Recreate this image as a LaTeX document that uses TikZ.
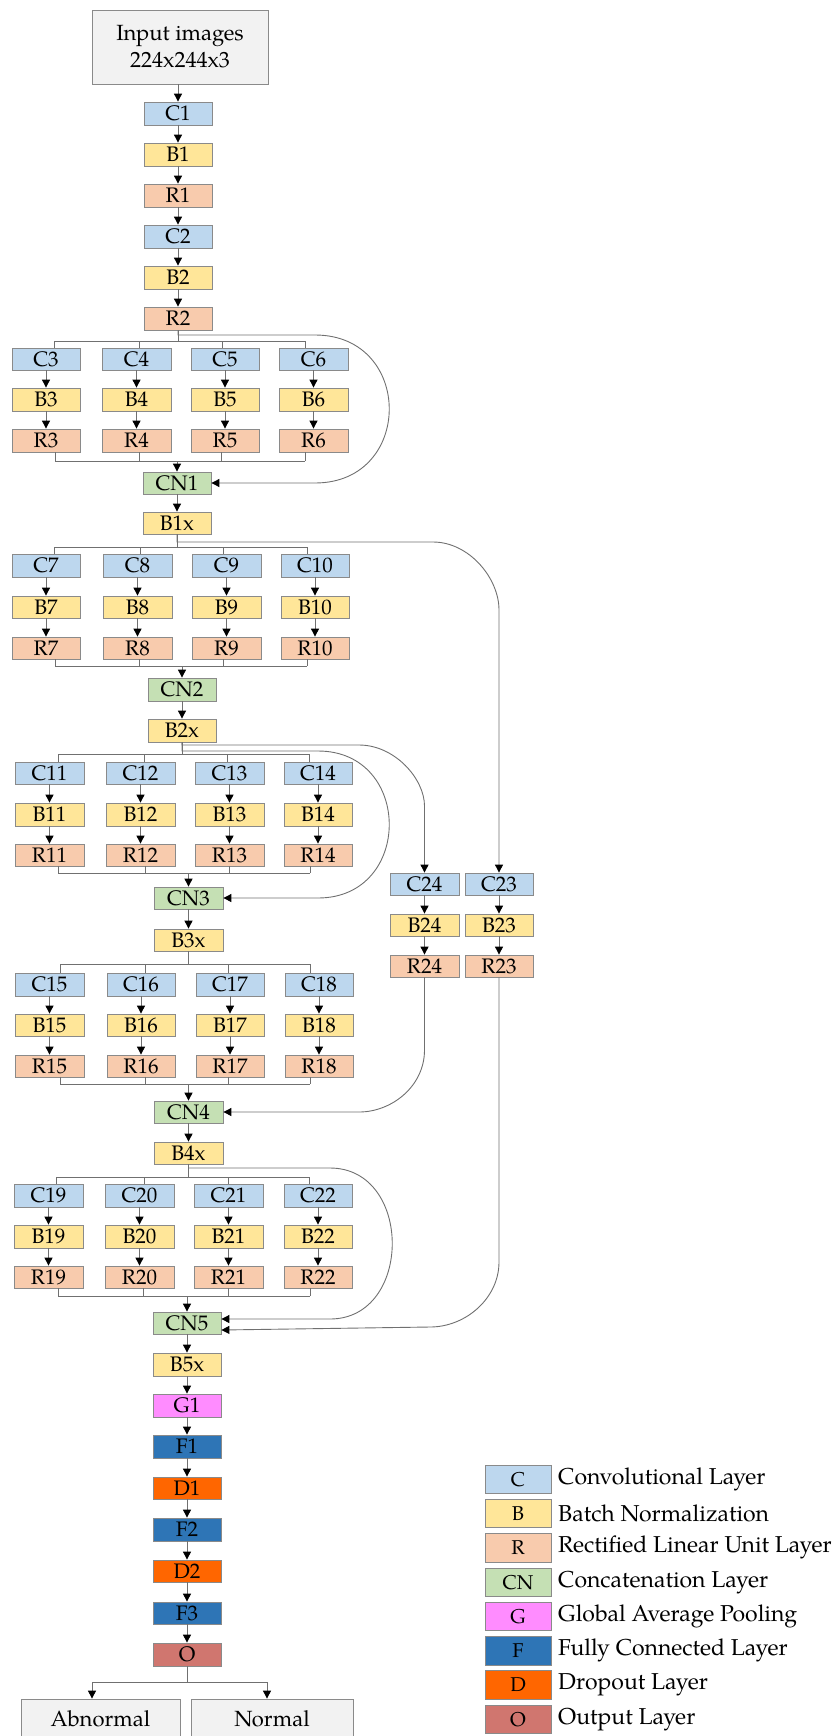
\documentclass[tikz,border=0pt]{standalone}
\usepackage{fontspec}
\setmainfont{TeX Gyre Pagella}
\usetikzlibrary{arrows.meta}
\definecolor{cC}{HTML}{BDD7EE}
\definecolor{cB}{HTML}{FFE699}
\definecolor{cR}{HTML}{F8CBAD}
\definecolor{cCN}{HTML}{C5E0B4}
\definecolor{cG}{HTML}{FF8CFF}
\definecolor{cF}{HTML}{2E75B6}
\definecolor{cD}{HTML}{FF6600}
\definecolor{cO}{HTML}{D0766F}
\definecolor{cI}{HTML}{F2F2F2}
\definecolor{bordergray}{HTML}{8A8A8A}
\definecolor{linegray}{HTML}{707070}
\newcommand\mybox[7]{\node[#2, minimum width={#4-#3}, minimum height={#6-#5}] (#1) at ({(#3+#4)/2},{(#5+#6)/2}) {#7};}
\tikzset{
  box/.style={draw=bordergray, line width=0.8pt, inner sep=0pt, align=center, font=\fontsize{21}{24}\selectfont},
  cbox/.style={box, fill=cC},
  bbox/.style={box, fill=cB},
  rbox/.style={box, fill=cR},
  cnbox/.style={box, fill=cCN},
  gpbox/.style={box, fill=cG},
  fbox/.style={box, fill=cF},
  dbox/.style={box, fill=cD},
  obox/.style={box, fill=cO},
  ibox/.style={box, fill=cI, font=\fontsize{22}{27}\selectfont},
  ln/.style={draw=linegray, line width=0.9pt},
  arr/.style={ln, -{Triangle[width=8pt,length=8pt,color=black]}},
  legbox/.style={font=\fontsize{20}{23}\selectfont},
  legtext/.style={anchor=west, inner sep=0pt, font=\fontsize{23}{27}\selectfont}
}
\begin{document}
\begin{tikzpicture}[x=1pt,y=-1pt]
\useasboundingbox (0,0) rectangle (836,1736);
% ---------- top column
\mybox{inp}{ibox}{92}{268}{10}{84}{Input images\\224x244x3}
\mybox{C1}{cbox}{144}{212}{102}{125}{C1}
\mybox{B1}{bbox}{144}{212}{143}{166}{B1}
\mybox{R1}{rbox}{144}{212}{184}{207}{R1}
\mybox{C2}{cbox}{144}{212}{225}{248}{C2}
\mybox{B2}{bbox}{144}{212}{266}{289}{B2}
\mybox{R2}{rbox}{144}{212}{307}{330}{R2}
\draw[arr] (C1 |- inp.south) -- (C1.north);
\draw[arr] (C1) -- (B1);
\draw[arr] (B1) -- (R1);
\draw[arr] (R1) -- (C2);
\draw[arr] (C2) -- (B2);
\draw[arr] (B2) -- (R2);
% ---------- block 1
\foreach \n/\xa/\xb in {3/12/80,4/102/171,5/191/259,6/279/348}{
  \mybox{C\n}{cbox}{\xa}{\xb}{348}{370}{C\n}
  \mybox{B\n}{bbox}{\xa}{\xb}{388}{411}{B\n}
  \mybox{R\n}{rbox}{\xa}{\xb}{429}{452}{R\n}
  \draw[arr] (C\n) -- (B\n);
  \draw[arr] (B\n) -- (R\n);
}
\mybox{CN1}{cnbox}{143}{211}{472}{494}{CN1}
\mybox{B1x}{bbox}{143}{211}{512}{534}{B1x}
\draw[ln] (R2.south) -- (R2.south |- 0,341);
\draw[ln] (54,341) -- (305,341);
\foreach \n/\t in {3/54,4/139,5/222,6/305} \draw[ln] (\t,341) -- (\t,341 |- C\n.north);
\foreach \n/\t in {3/55,4/139,5/221,6/305} \draw[ln] (\t,461 |- R\n.south) -- (\t,461);
\draw[ln] (55,461) -- (305,461);
\draw[arr] (CN1 |- 0,461) -- (CN1.north);
\draw[arr] (CN1) -- (B1x);
% ---------- block 2
\foreach \n/\xa/\xb in {7/12/80,8/103/172,9/192/261,10/281/349}{
  \mybox{C\n}{cbox}{\xa}{\xb}{554}{577}{C\n}
  \mybox{B\n}{bbox}{\xa}{\xb}{596}{618}{B\n}
  \mybox{R\n}{rbox}{\xa}{\xb}{637}{659}{R\n}
  \draw[arr] (C\n) -- (B\n);
  \draw[arr] (B\n) -- (R\n);
}
\mybox{CN2}{cnbox}{148}{216}{678}{701}{CN2}
\mybox{B2x}{bbox}{148}{216}{719}{742}{B2x}
\draw[ln] (B1x.south) -- (B1x.south |- 0,547);
\draw[ln] (54,547) -- (307,547);
\foreach \n/\t in {7/54,8/140,9/223,10/307} \draw[ln] (\t,547) -- (\t,547 |- C\n.north);
\foreach \n/\t in {7/55,8/139,9/223,10/307} \draw[ln] (\t,666 |- R\n.south) -- (\t,666);
\draw[ln] (55,666) -- (307,666);
\draw[arr] (CN2 |- 0,666) -- (CN2.north);
\draw[arr] (CN2) -- (B2x);
% ---------- block 3
\foreach \n/\xa/\xb in {11/15/84,12/106/175,13/195/264,14/284/352}{
  \mybox{C\n}{cbox}{\xa}{\xb}{762}{784}{C\n}
  \mybox{B\n}{bbox}{\xa}{\xb}{803}{826}{B\n}
  \mybox{R\n}{rbox}{\xa}{\xb}{844}{866}{R\n}
  \draw[arr] (C\n) -- (B\n);
  \draw[arr] (B\n) -- (R\n);
}
\mybox{CN3}{cnbox}{154}{223}{887}{909}{CN3}
\mybox{B3x}{bbox}{154}{223}{929}{951}{B3x}
\draw[ln] (B2x.south) -- (B2x.south |- 0,754);
\draw[ln] (58,754) -- (309,754);
\foreach \n/\t in {11/58,12/144,13/227,14/309} \draw[ln] (\t,754) -- (\t,754 |- C\n.north);
\foreach \n/\t in {11/58,12/145,13/229,14/310} \draw[ln] (\t,873 |- R\n.south) -- (\t,873);
\draw[ln] (58,873) -- (310,873);
\draw[arr] (CN3 |- 0,873) -- (CN3.north);
\draw[arr] (CN3) -- (B3x);
% ---------- block 4
\foreach \n/\xa/\xb in {15/15/84,16/107/175,17/196/264,18/285/353}{
  \mybox{C\n}{cbox}{\xa}{\xb}{973}{996}{C\n}
  \mybox{B\n}{bbox}{\xa}{\xb}{1014}{1036}{B\n}
  \mybox{R\n}{rbox}{\xa}{\xb}{1055}{1077}{R\n}
  \draw[arr] (C\n) -- (B\n);
  \draw[arr] (B\n) -- (R\n);
}
\mybox{CN4}{cnbox}{154}{223}{1101}{1123}{CN4}
\mybox{B4x}{bbox}{154}{223}{1142}{1164}{B4x}
\draw[ln] (B3x.south) -- (B3x.south |- 0,964);
\draw[ln] (60,964) -- (310,964);
\foreach \n/\t in {15/60,16/145,17/228,18/310} \draw[ln] (\t,964) -- (\t,964 |- C\n.north);
\foreach \n/\t in {15/60,16/145,17/228,18/310} \draw[ln] (\t,1084 |- R\n.south) -- (\t,1084);
\draw[ln] (60,1084) -- (310,1084);
\draw[arr] (CN4 |- 0,1084) -- (CN4.north);
\draw[arr] (CN4) -- (B4x);
% ---------- block 5
\foreach \n/\xa/\xb in {19/14/83,20/105/174,21/194/263,22/284/352}{
  \mybox{C\n}{cbox}{\xa}{\xb}{1184}{1207}{C\n}
  \mybox{B\n}{bbox}{\xa}{\xb}{1225}{1248}{B\n}
  \mybox{R\n}{rbox}{\xa}{\xb}{1266}{1288}{R\n}
  \draw[arr] (C\n) -- (B\n);
  \draw[arr] (B\n) -- (R\n);
}
\mybox{CN5}{cnbox}{153}{221}{1312}{1334}{CN5}
\draw[ln] (B4x.south) -- (B4x.south |- 0,1177);
\draw[ln] (56,1177) -- (309,1177);
\foreach \n/\t in {19/56,20/144,21/228,22/309} \draw[ln] (\t,1177) -- (\t,1177 |- C\n.north);
\foreach \n/\t in {19/58,20/143,21/228,22/310} \draw[ln] (\t,1296 |- R\n.south) -- (\t,1296);
\draw[ln] (58,1296) -- (310,1296);
\draw[arr] (CN5 |- 0,1296) -- (CN5.north);
% ---------- tail column
\mybox{B5x}{bbox}{153}{221}{1353}{1376}{B5x}
\mybox{G1}{gpbox}{153}{221}{1394}{1417}{G1}
\mybox{F1}{fbox}{153}{221}{1435}{1458}{F1}
\mybox{D1}{dbox}{153}{221}{1477}{1499}{D1}
\mybox{F2}{fbox}{153}{221}{1518}{1541}{F2}
\mybox{D2}{dbox}{153}{221}{1560}{1582}{D2}
\mybox{F3}{fbox}{153}{221}{1602}{1624}{F3}
\mybox{O}{obox}{153}{221}{1643}{1666}{O}
\draw[arr] (CN5) -- (B5x);
\draw[arr] (B5x) -- (G1);
\draw[arr] (G1) -- (F1);
\draw[arr] (F1) -- (D1);
\draw[arr] (D1) -- (F2);
\draw[arr] (F2) -- (D2);
\draw[arr] (D2) -- (F3);
\draw[arr] (F3) -- (O);
\mybox{abn}{ibox}{21}{180}{1699}{1738}{Abnormal}
\mybox{nor}{ibox}{191}{353}{1699}{1738}{Normal}
\draw[ln] (O.south) -- (O.south |- 0,1682);
\draw[ln] (92,1682) -- (267,1682);
\draw[arr] (92,1682) -- (92,1682 |- abn.north);
\draw[arr] (267,1682) -- (267,1682 |- nor.north);
% ---------- side column
\foreach \n/\xa/\xb in {24/390/459,23/465/533}{
  \mybox{C\n}{cbox}{\xa}{\xb}{873}{895}{C\n}
  \mybox{B\n}{bbox}{\xa}{\xb}{914}{936}{B\n}
  \mybox{R\n}{rbox}{\xa}{\xb}{955}{977}{R\n}
  \draw[arr] (C\n) -- (B\n);
  \draw[arr] (B\n) -- (R\n);
}
% ---------- skip connections
\draw[arr] (R2.south) -- (R2.south |- 0,335) -- (315,335)
  .. controls (414,335) and (414,0 |- CN1.east) .. (315,0 |- CN1.east) -- (CN1.east);
\draw[arr] (B1x.south) -- (B1x.south |- 0,542) -- (433,542)
  .. controls (469,542) and (C23.north |- 0,578) .. (C23.north |- 0,610) -- (C23.north);
\draw[arr] (B2x.south) -- (B2x.south |- 0,745) -- (359,745)
  .. controls (395,745) and (C24.north |- 0,779) .. (C24.north |- 0,806) -- (C24.north);
\draw[arr] (B2x.south) -- (B2x.south |- 0,751) -- (318,751)
  .. controls (413,751) and (413,0 |- CN3.east) .. (318,0 |- CN3.east) -- (CN3.east);
\draw[arr] (R24.south) -- (R24.south |- 0,1050)
  .. controls (R24.south |- 0,1086) and (392,0 |- CN4.east) .. (359,0 |- CN4.east) -- (CN4.east);
\draw[arr] (B4x.south) -- (B4x.south |- 0,1168) -- (330,1168)
  .. controls (413,1168) and (413,1319) .. (330,1319) -- ([yshift=4pt]CN5.east);
\draw[arr] (R23.south) -- (R23.south |- 0,1262)
  .. controls (R23.south |- 0,1298) and (466,1327) .. (430,1327) -- ([yshift=-7pt]CN5.east);
% ---------- legend
\foreach \i/\s/\l/\t in {0/cbox/C/Convolutional Layer,1/bbox/B/Batch Normalization,2/rbox/R/Rectified Linear Unit Layer,3/cnbox/CN/Concatenation Layer,4/gpbox/G/Global Average Pooling,5/fbox/F/Fully Connected Layer,6/dbox/D/Dropout Layer,7/obox/O/Output Layer}{
  \pgfmathsetmacro\ya{1465+34.3*\i}
  \pgfmathsetmacro\yb{\ya+28.5}
  \mybox{L\i}{\s,legbox}{485}{551}{\ya}{\yb}{\l}
  \node[legtext] (T\i) at (558,{(\ya+\yb)/2}) {\t};
}
\end{tikzpicture}
\end{document}
